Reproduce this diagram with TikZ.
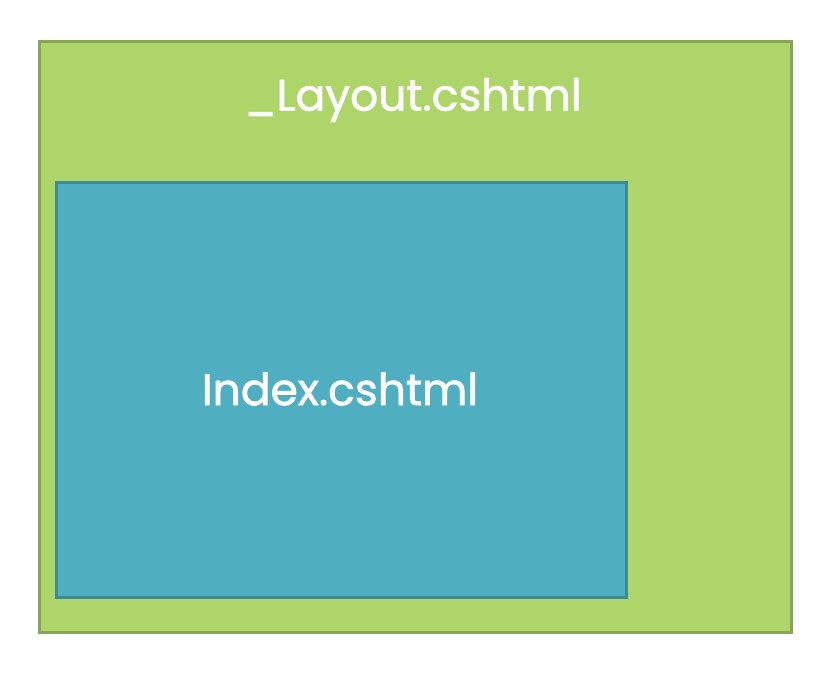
\documentclass[tikz,border=0pt]{standalone}
\usepackage{fontspec}
\setmainfont{Poppins}
\newfontfamily\labelfont{Poppins}[FakeBold=1.6]
\definecolor{layoutfill}{HTML}{ADD56A}
\definecolor{layoutline}{HTML}{86A556}
\definecolor{indexfill}{HTML}{4FAFC1}
\definecolor{indexline}{HTML}{3D8A93}
\begin{document}
\begin{tikzpicture}[x=1pt, y=-1pt,
    layoutbox/.style={draw=layoutline, fill=layoutfill, line width=3pt},
    indexbox/.style={draw=indexline, fill=indexfill, line width=3pt},
    boxlabel/.style={text=white, font=\labelfont\fontsize{44}{52}\selectfont}]
    \useasboundingbox (0,0) rectangle (826,672) ;
    \draw [layoutbox] (39.5,41.5) rectangle (791.5,632.5) ;
    \draw [indexbox] (56,182) rectangle (626,597) ;
    \node [boxlabel] (layout) at (413,100) {\_Layout.cshtml} ;
    \node [boxlabel] (index) at (340,389) {Index.cshtml} ;
\end{tikzpicture}
\end{document}
